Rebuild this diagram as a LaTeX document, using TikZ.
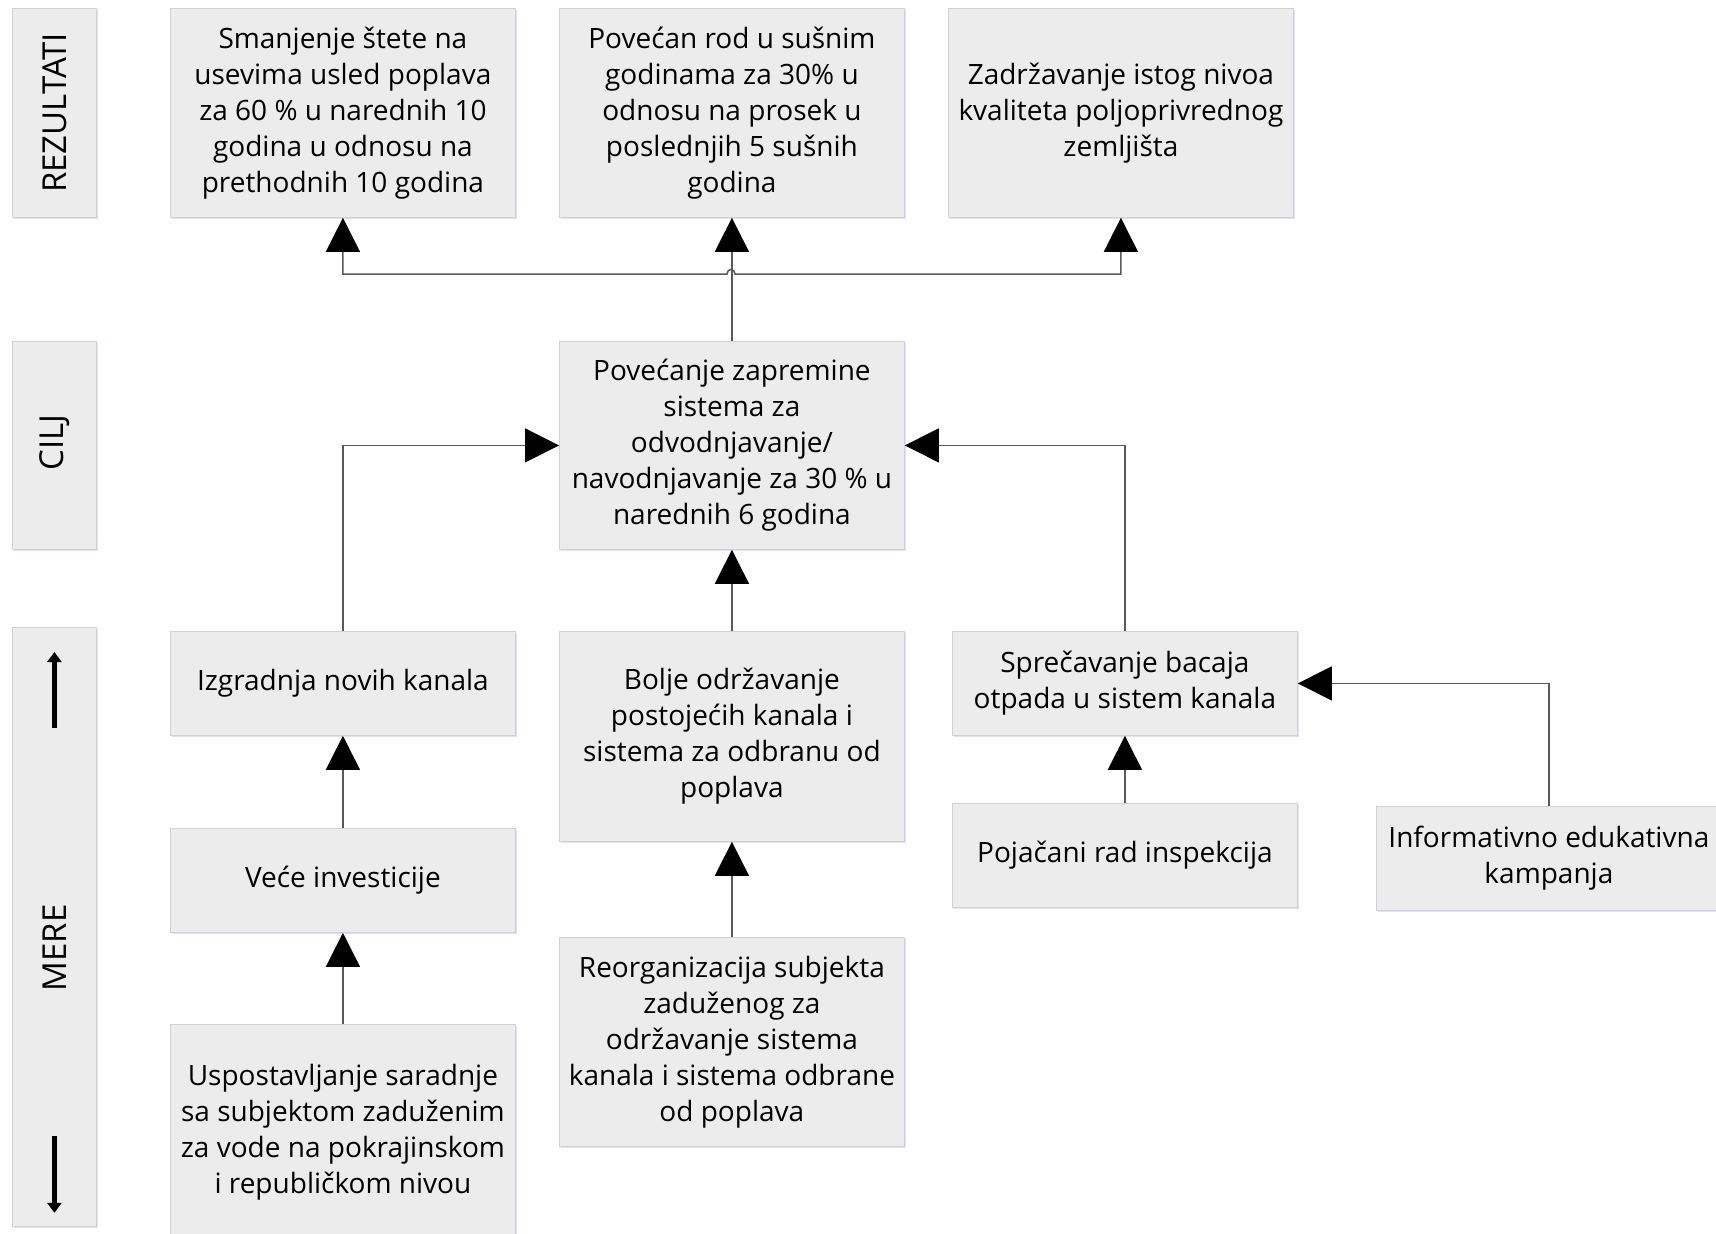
\documentclass[tikz,border=0pt]{standalone}
\usepackage{fontspec}
\setmainfont{Open Sans}
\usepackage{tikz}
\usetikzlibrary{arrows.meta}
\usetikzlibrary{shadows}

\begin{document}
\begin{tikzpicture}[x=0.5pt, y=-0.5pt, blok/.style={draw=black!18, fill=black!7.5, inner sep=0pt, align=center, anchor=north west, minimum width=172.5pt, font=\fontsize{14}{18}\selectfont, drop shadow={shadow xshift=0.6pt, shadow yshift=-0.8pt, fill=blue!25, opacity=0.5}}, natpis/.style={rotate=90, font=\fontsize{16.5}{20}\selectfont}, vrh/.tip={Triangle[length=17pt, width=17pt, color=black]}, veza/.style={draw=black!65, line width=0.75pt, -vrh}, oznaka/.style={line width=2.6pt, -{Triangle[length=5pt, width=7pt]}}]
  \useasboundingbox (0,0) rectangle (1716,1233);
  \node[blok, minimum width=42pt, minimum height=104.5pt, label={[natpis]center:REZULTATI}] (lrez) at (12,8) {};
  \node[blok, minimum width=42pt, minimum height=104pt, label={[natpis, xshift=1.5pt]center:CILJ}] (lcilj) at (12,341) {};
  \node[blok, minimum width=42pt, minimum height=299.5pt, label={[natpis, xshift=-10.5pt]center:MERE}] (lmere) at (12,627) {};
  \node[blok, minimum height=104.5pt] (r1) at (170,8) {Smanjenje štete na\\usevima usled poplava\\za 60 \% u narednih 10\\godina u odnosu na\\prethodnih 10 godina};
  \node[blok, minimum height=104.5pt] (r2) at (559,8) {Povećan rod u sušnim\\godinama za 30\% u\\odnosu na prosek u\\poslednjih 5 sušnih\\godina};
  \node[blok, minimum height=104.5pt] (r3) at (948,8) {Zadržavanje istog nivoa\\kvaliteta poljoprivrednog\\zemljišta};
  \node[blok, minimum height=104pt] (cilj) at (559,341) {Povećanje zapremine\\sistema za\\odvodnjavanje/\\navodnjavanje za 30 \% u\\narednih 6 godina};
  \node[blok, minimum height=52pt] (m1) at (170,631) {Izgradnja novih kanala};
  \node[blok, minimum height=52pt] (m2) at (170,828) {Veće investicije};
  \node[blok, minimum height=107.5pt] (m3) at (170,1024) {Uspostavljanje saradnje\\sa subjektom zaduženim\\za vode na pokrajinskom\\i republičkom nivou};
  \node[blok, minimum height=105pt] (m4) at (559,631) {Bolje održavanje\\postojećih kanala i\\sistema za odbranu od\\poplava};
  \node[blok, minimum height=104.5pt] (m5) at (559,937) {Reorganizacija subjekta\\zaduženog za\\održavanje sistema\\kanala i sistema odbrane\\od poplava};
  \node[blok, minimum height=52pt] (m6) at (952,631) {Sprečavanje bacaja\\otpada u sistem kanala};
  \node[blok, minimum height=52pt] (m7) at (952,803) {Pojačani rad inspekcija};
  \node[blok, minimum height=52pt] (m8) at (1376,806) {Informativno edukativna\\kampanja};
  \coordinate (spoj) at (731,274);
  \draw[veza] (cilj.north) -- (r2.south);
  \draw[veza, vrh-vrh] (r1.south) |- ([xshift=-2pt]spoj) .. controls ([xshift=-2pt, yshift=3pt]spoj) and ([xshift=2pt, yshift=3pt]spoj) .. ([xshift=2pt]spoj) -| (r3.south);
  \draw[veza] (m1.north) |- (cilj.west);
  \draw[veza] (m4.north) -- (cilj.south);
  \draw[veza] (m6.north) |- (cilj.east);
  \draw[veza] (m2.north) -- (m1.south);
  \draw[veza] (m3.north) -- (m2.south);
  \draw[veza] (m5.north) -- (m4.south);
  \draw[veza] (m7.north) -- (m6.south);
  \draw[veza] (m8.north) |- (m6.east);
  \draw[oznaka] ([yshift=-50.5pt]lmere.north) -- ([yshift=-12.5pt]lmere.north);
  \draw[oznaka] ([yshift=45.5pt]lmere.south) -- ([yshift=7pt]lmere.south);
\end{tikzpicture}
\end{document}
